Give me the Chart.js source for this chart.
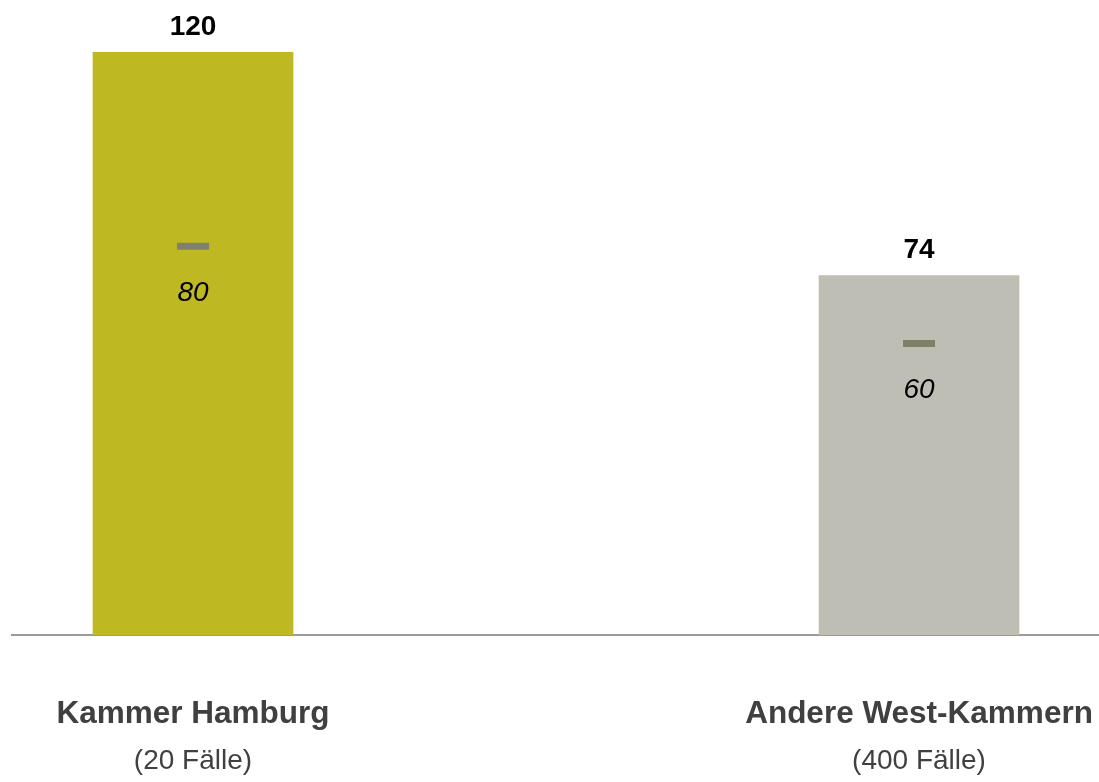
<!DOCTYPE html>
<html><head><meta charset="utf-8">
<script src="https://cdn.jsdelivr.net/npm/chart.js@4/dist/chart.umd.min.js"></script>
<style>html,body{margin:0;padding:0;background:#fff;overflow:hidden}#wrap{width:1099px;height:782px;position:relative}</style>
</head><body><div id="wrap"><canvas id="c"></canvas></div>
<script>
const categories = ['Kammer Hamburg', 'Andere West-Kammern'];
const caseCounts = ['(20 Fälle)', '(400 Fälle)'];
const barValues = [120, 74];
const markerValues = [80, 60];
const barColors = ['#BEB822', '#BEBEB4'];
const markerColors = ['#80806F', '#7F8066'];

const FONT = '"Liberation Sans", Arial, Helvetica, sans-serif';

const labelPlugin = {
  id: 'labels',
  afterDatasetsDraw(chart) {
    const ctx = chart.ctx;
    const xs = chart.scales.x, ys = chart.scales.y;
    ctx.save();
    ctx.textAlign = 'center';
    ctx.textBaseline = 'alphabetic';
    categories.forEach((cat, i) => {
      const x = xs.getPixelForValue(i);
      const top = ys.getPixelForValue(barValues[i]);
      ctx.fillStyle = '#000';
      ctx.font = 'bold 28px ' + FONT;
      ctx.fillText(String(barValues[i]), x, top - 17.5);
      const my = ys.getPixelForValue(markerValues[i]);
      ctx.font = 'italic 28px ' + FONT;
      ctx.fillText(String(markerValues[i]), x, my + 54.5);
      ctx.fillStyle = '#404040';
      ctx.font = 'bold 31.5px ' + FONT;
      ctx.fillText(cat, x, 723);
      ctx.font = '28px ' + FONT;
      ctx.fillText(caseCounts[i], x, 769);
    });
    ctx.restore();
  }
};

new Chart(document.getElementById('c'), {
  type: 'bar',
  data: {
    datasets: [
      {
        type: 'line',
        order: 0,
        data: markerValues.map((v, i) => ({x: i, y: v})),
        showLine: false,
        pointStyle: 'line',
        pointRadius: 16,
        pointHoverRadius: 16,
        pointBorderWidth: 7,
        pointHoverBorderWidth: 7,
        pointBorderColor: markerColors,
        pointBackgroundColor: markerColors
      },
      {
        type: 'bar',
        order: 1,
        data: barValues.map((v, i) => ({x: i, y: v})),
        backgroundColor: barColors,
        borderWidth: 0,
        barThickness: 200
      }
    ]
  },
  options: {
    responsive: true,
    maintainAspectRatio: false,
    animation: false,
    events: [],
    layout: {autoPadding: false, padding: {left: 12, right: 0, top: 52, bottom: 147}},
    plugins: {legend: {display: false}, tooltip: {enabled: false}},
    scales: {
      x: {
        type: 'linear',
        offset: false,
        min: -0.2493,
        max: 1.2479,
        grid: {display: false, drawTicks: false, tickLength: 0},
        ticks: {display: false},
        border: {display: true, color: '#9A9A9A', width: 2}
      },
      y: {
        display: false,
        min: 0,
        max: 120
      }
    }
  },
  plugins: [labelPlugin]
});
</script>
</body></html>
